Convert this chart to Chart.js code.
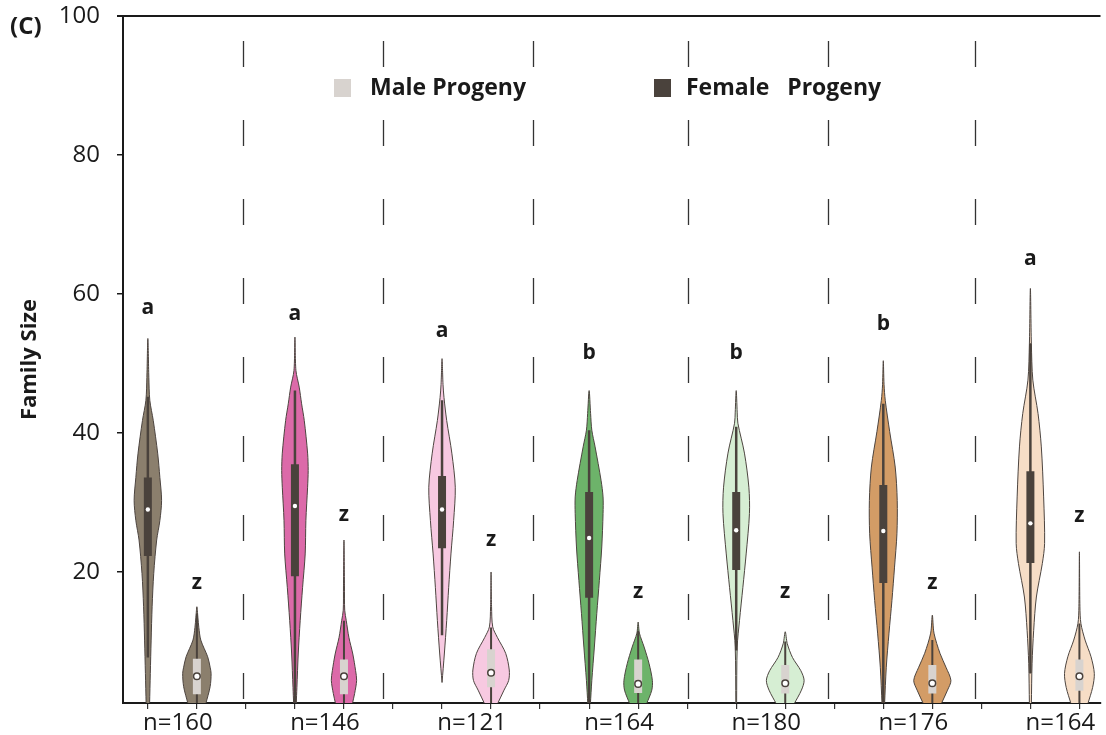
<!DOCTYPE html>
<html>
<head>
<meta charset="utf-8">
<script src="https://cdn.jsdelivr.net/npm/chart.js@4.4.1/dist/chart.umd.min.js"></script>
<style>
  html, body { margin: 0; padding: 0; background: #fff; }
  #wrap { width: 1106px; height: 735px; position: relative; }
</style>
</head>
<body>
<div id="wrap"><canvas id="chart"></canvas></div>
<script>
// --- DATA ---
const sampleSizes = [160, 146, 121, 164, 180, 176, 164];
const yTicks = [20, 40, 60, 80, 100];

// violin outlines: [family size, half width in x-axis units], top to bottom
const femaleViolins = [
  [[53.6,0],[48,0.02],[44.7,0.04],[41.8,0.11],[37.1,0.2],[33.6,0.245],[30.3,0.28],[27.4,0.245],[24.6,0.18],[19.8,0.12],[15,0.087],[10.2,0.067],[5.4,0.05],[1.0,0.035]],
  [[53.8,0],[49,0.02],[46.6,0.087],[44.2,0.136],[41.8,0.19],[37.1,0.258],[34.6,0.27],[32.2,0.258],[27.4,0.223],[22.6,0.209],[17.8,0.156],[13,0.107],[8.2,0.067],[3.4,0.04],[1.0,0.026]],
  [[50.7,0],[47,0.02],[45.1,0.04],[41.8,0.095],[37.1,0.2],[32.2,0.27],[27.4,0.237],[22.6,0.182],[17.8,0.136],[13,0.095],[8.2,0.047],[4.1,0]],
  [[46.1,0],[42.8,0.03],[40.4,0.055],[38,0.122],[33.2,0.243],[30.8,0.284],[28.4,0.284],[23.6,0.258],[18.8,0.209],[14,0.156],[9.2,0.107],[4.4,0.055],[1.0,0.026]],
  [[46.1,0],[43,0.02],[41.4,0.034],[37.1,0.168],[32.2,0.258],[28.4,0.27],[22.6,0.203],[17.8,0.136],[13,0.067],[9.2,0.02],[1.0,0.008]],
  [[50.4,0],[47,0.015],[44.7,0.04],[40.2,0.13],[35.1,0.243],[30.3,0.284],[25.5,0.278],[20.7,0.229],[15.9,0.176],[11.2,0.116],[6.3,0.061],[1.0,0.026]],
  [[60.8,0],[52.9,0.02],[47.6,0.05],[42.8,0.156],[38,0.223],[30.8,0.27],[24.1,0.29],[21.2,0.243],[16.4,0.122],[11.6,0.067],[6.8,0.034],[1.0,0.02]]
];
const maleViolins = [
  [[15,0],[13.5,0.02],[12,0.04],[10.2,0.08],[7.8,0.22],[6.3,0.27],[5.4,0.29],[3.5,0.27],[1.0,0.18]],
  [[24.6,0],[18,0.01],[14.5,0.015],[13,0.047],[10.6,0.1],[8.2,0.18],[5.8,0.237],[4.4,0.258],[2.5,0.217],[1.0,0.17]],
  [[20,0],[15,0.01],[12.1,0.034],[10.6,0.128],[8.3,0.298],[5.9,0.371],[4.4,0.359],[3.0,0.264],[1.0,0.13]],
  [[12.8,0],[11.2,0.026],[9.2,0.122],[6.8,0.223],[4.4,0.29],[3.0,0.278],[1.0,0.17]],
  [[11.4,0],[9.7,0.041],[7.7,0.148],[5.8,0.318],[4.4,0.385],[3.0,0.33],[1.0,0.18]],
  [[13.8,0],[11.2,0.034],[8.3,0.156],[6.3,0.278],[4.4,0.379],[3.0,0.31],[1.0,0.18]],
  [[22.9,0],[15,0.01],[12.6,0.03],[10.2,0.116],[7.8,0.237],[5.4,0.304],[3.4,0.27],[1.0,0.17]]
];

// box plot parts
const femaleQ1 = [22.3, 19.4, 23.4, 16.3, 20.3, 18.4, 21.3];
const femaleQ3 = [33.6, 35.5, 33.8, 31.5, 31.5, 32.5, 34.5];
const femaleMedian = [29.0, 29.5, 29.0, 24.9, 26.0, 25.9, 27.0];
const femaleWhiskerLo = [7.7, 1.0, 10.9, 1.0, 8.7, 1.0, 5.4];
const femaleWhiskerHi = [45.2, 46.1, 44.7, 40.4, 40.9, 44.2, 52.9];

const maleQ1 = [2.4, 2.4, 3.4, 2.6, 2.5, 2.5, 2.9];
const maleQ3 = [7.5, 7.4, 8.9, 7.4, 6.6, 6.6, 7.4];
const maleMedian = [5.0, 5.0, 5.5, 3.9, 4.0, 4.0, 5.0];
const maleWhiskerLo = [1.0, 1.0, 1.0, 1.0, 1.0, 1.0, 1.0];
const maleWhiskerHi = [14, 13, 12, 11.5, 10, 10.2, 12.6];

// significance letters and their baselines (family size units)
const femaleLetters = ['a', 'a', 'a', 'b', 'b', 'b', 'a'];
const femaleLetterY = [57.1, 56.2, 53.8, 50.6, 50.6, 54.8, 64.2];
const maleLetters = ['z', 'z', 'z', 'z', 'z', 'z', 'z'];
const maleLetterY = [17.5, 27.3, 23.8, 16.2, 16.2, 17.5, 27.2];

// --- STYLE ---
const groupColors = ['#8b7f6d', '#dc6aa9', '#f7c9e1', '#6db36a', '#d6eed3', '#d39c66', '#f6ddc6'];
const outlineColor = '#4d4540';
const darkBox = '#4a423c';
const lightBox = '#d8d3cf';
const sepPos = [2.94, 5.79, 8.85, 12.01, 14.87, 17.87];
const ink = '#1a1a1a';

Chart.defaults.font.family = "'Open Sans', sans-serif";
Chart.defaults.color = ink;

function violinPoints(profile, cx) {
  const right = profile.slice().reverse().map(p => ({ x: cx + p[1], y: p[0] }));
  const left = profile.slice(1).map(p => ({ x: cx - p[1], y: p[0] }));
  return right.concat(left);
}

function segment(x, lo, hi, color, width, order) {
  return {
    data: [{ x: x, y: lo }, { x: x, y: hi }],
    borderColor: color, borderWidth: width, borderCapStyle: 'butt',
    pointRadius: 0, fill: false, tension: 0, order: order
  };
}

const datasets = [];
const femaleMedPts = [], maleMedPts = [];
for (let g = 0; g < sampleSizes.length; g++) {
  const fx = g * 3 + 1, mx = g * 3 + 2;
  [[femaleViolins[g], fx], [maleViolins[g], mx]].forEach(([prof, cx]) => {
    datasets.push({
      data: violinPoints(prof, cx),
      borderColor: outlineColor, borderWidth: 1,
      backgroundColor: groupColors[g], fill: 'shape',
      tension: 0.3, pointRadius: 0, order: 4
    });
  });
  datasets.push(segment(fx, femaleWhiskerLo[g], femaleWhiskerHi[g], darkBox, 2.5, 3));
  datasets.push(segment(mx, maleWhiskerLo[g], maleWhiskerHi[g], darkBox, 2, 3));
  datasets.push(segment(fx, femaleQ1[g], femaleQ3[g], darkBox, 8, 2));
  datasets.push(segment(mx, maleQ1[g], maleQ3[g], lightBox, 8, 2));
  femaleMedPts.push({ x: fx, y: femaleMedian[g] });
  maleMedPts.push({ x: mx, y: maleMedian[g] });
}
datasets.push({ data: femaleMedPts, showLine: false, pointRadius: 2.2, pointBackgroundColor: '#fff', pointBorderWidth: 0, order: 1 });
datasets.push({ data: maleMedPts, showLine: false, pointRadius: 3.3, pointBackgroundColor: '#fff', pointBorderColor: darkBox, pointBorderWidth: 1.5, order: 1 });

const tickPositions = [];
for (let i = 1; i <= sampleSizes.length * 3 - 1; i++) tickPositions.push(i);

// separators, top border, legend, letters, panel tag
const decorations = {
  id: 'decorations',
  beforeDatasetsDraw(chart) {
    const { ctx, chartArea, scales } = chart;
    ctx.save();
    ctx.strokeStyle = '#333';
    ctx.lineWidth = 1.3;
    ctx.setLineDash([26, 53]);
    sepPos.forEach(p => {
      const x = Math.round(scales.x.getPixelForValue(p)) + 0.5;
      ctx.beginPath();
      ctx.moveTo(x, chartArea.top + 25);
      ctx.lineTo(x, chartArea.bottom);
      ctx.stroke();
    });
    ctx.restore();
  },
  afterDraw(chart) {
    const { ctx, chartArea, scales } = chart;
    ctx.save();
    // top border
    ctx.strokeStyle = ink;
    ctx.lineWidth = 2;
    ctx.beginPath();
    ctx.moveTo(chartArea.left - 6, chartArea.top);
    ctx.lineTo(chartArea.right, chartArea.top);
    ctx.stroke();

    // legend
    ctx.font = "bold 23px 'Open Sans', sans-serif";
    ctx.textBaseline = 'middle';
    ctx.textAlign = 'left';
    ctx.fillStyle = lightBox;
    ctx.fillRect(334, 79, 17, 18);
    ctx.fillStyle = darkBox;
    ctx.fillRect(654, 79, 17, 18);
    ctx.fillStyle = ink;
    ctx.fillText('Male Progeny', 370, 88);
    ctx.fillText('Female   Progeny', 686, 88);

    // letters
    ctx.font = "bold 21px 'Open Sans', sans-serif";
    ctx.textAlign = 'center';
    ctx.textBaseline = 'alphabetic';
    for (let g = 0; g < sampleSizes.length; g++) {
      ctx.fillText(femaleLetters[g], scales.x.getPixelForValue(g * 3 + 1), scales.y.getPixelForValue(femaleLetterY[g]));
      ctx.fillText(maleLetters[g], scales.x.getPixelForValue(g * 3 + 2), scales.y.getPixelForValue(maleLetterY[g]));
    }

    // panel tag
    ctx.font = "bold 24px 'Open Sans', sans-serif";
    ctx.textAlign = 'left';
    ctx.textBaseline = 'middle';
    ctx.fillText('(C)', 10, 27);
    ctx.restore();
  }
};

new Chart(document.getElementById('chart'), {
  type: 'line',
  data: { datasets: datasets },
  plugins: [decorations],
  options: {
    responsive: true,
    maintainAspectRatio: false,
    animation: false,
    layout: { padding: { top: 16, left: 0, right: 0, bottom: 0 } },
    plugins: { legend: { display: false }, tooltip: { enabled: false } },
    scales: {
      x: {
        type: 'linear',
        min: 0.493,
        max: 20.43,
        afterBuildTicks: s => { s.ticks = tickPositions.map(v => ({ value: v })); },
        afterFit: s => { s.height = 32; s.paddingLeft = 0; s.paddingRight = 0; },
        grid: { drawOnChartArea: false, tickLength: 6, tickColor: '#333', lineWidth: 1.2 },
        border: { color: ink, width: 2 },
        ticks: {
          autoSkip: false, maxRotation: 0, padding: 0, labelOffset: 30,
          font: { size: 24 }, color: ink,
          callback: v => ((v - 1) % 3 === 0 ? 'n=' + sampleSizes[(v - 1) / 3] : '')
        }
      },
      y: {
        min: 1.15,
        max: 100,
        afterBuildTicks: s => { s.ticks = yTicks.map(v => ({ value: v })); },
        afterFit: s => { s.width = 123; s.paddingTop = 0; s.paddingBottom = 0; },
        grid: { drawOnChartArea: false, tickLength: 6, tickColor: ink, lineWidth: 1.5 },
        border: { color: ink, width: 2 },
        ticks: { padding: 17, font: { size: 24 }, color: ink },
        title: {
          display: true, text: 'Family Size', color: ink,
          font: { size: 22, weight: 'bold' }, padding: { top: 17, bottom: 0 }
        }
      }
    }
  }
});
</script>
</body>
</html>
